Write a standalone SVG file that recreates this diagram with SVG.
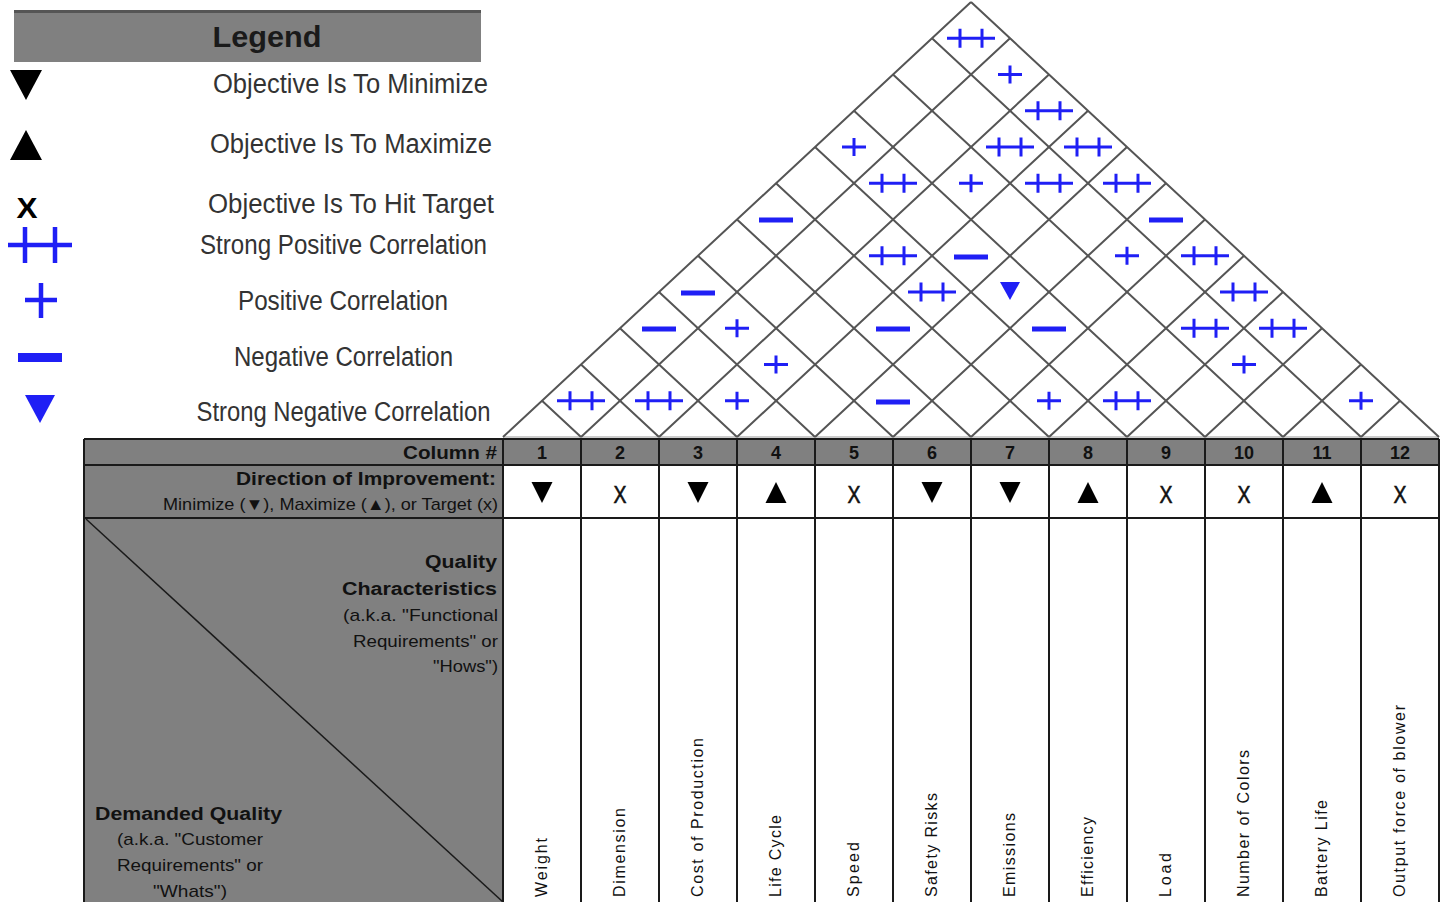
<svg xmlns="http://www.w3.org/2000/svg" width="1450" height="902" viewBox="0 0 1450 902">
<style>
  text { font-family: "Liberation Sans", Arial, sans-serif; }
  .lg { font-size: 27px; fill: #333; text-anchor: middle; }
  .hd { font-size: 18px; font-weight: bold; fill: #111; }
  .hr { font-size: 17px; fill: #111; }
  .num { font-size: 18px; font-weight: bold; fill: #111; text-anchor: middle; }
  .cn { font-size: 16px; fill: #111; }
  .grid { stroke: #555; stroke-width: 2; fill: none; }
  .tl { stroke: #1a1a1a; stroke-width: 2; fill: none; }
  .blue { stroke: #1f1ff5; stroke-width: 3; fill: none; }
  .bluef { fill: #1f1ff5; }
  .blk { fill: #000; }
  .gray { fill: #808080; }
  .x { font-size: 24px; fill: #111; text-anchor: middle; stroke: #111; stroke-width: 0.6; }
</style>
<defs>
  <g id="pp"><path class="blue" d="M-24 0H24M-11 -9.5V9.5M11 -9.5V9.5"/></g>
  <g id="p"><path class="blue" d="M-12 0H12M0 -9V9"/></g>
  <g id="m"><rect class="bluef" x="-17" y="-2.5" width="34" height="5"/></g>
  <g id="sn"><polygon class="bluef" points="-10,-9 10,-9 0,9"/></g>
  <polygon id="dn" class="blk" points="-10.5,-10.5 10.5,-10.5 0,10.5"/>
  <polygon id="up" class="blk" points="0,-10.5 -10.5,10.5 10.5,10.5"/>
</defs>
<rect width="1450" height="902" fill="#fff"/>

<g id="legend">
  <rect class="gray" x="14" y="10" width="467" height="52"/>
  <rect x="14" y="10" width="467" height="3" fill="#555"/>
  <text x="267" y="47" font-size="30" font-weight="bold" fill="#1a1a1a" text-anchor="middle" textLength="109" lengthAdjust="spacingAndGlyphs">Legend</text>
  <polygon class="blk" points="10,70 42,70 26,100"/>
  <text class="lg" x="350.5" y="93" textLength="275" lengthAdjust="spacingAndGlyphs">Objective Is To Minimize</text>
  <polygon class="blk" points="26,130 10,160 42,160"/>
  <text class="lg" x="351" y="153" textLength="282" lengthAdjust="spacingAndGlyphs">Objective Is To Maximize</text>
  <text x="27" y="218" font-size="29" font-weight="bold" fill="#000" text-anchor="middle" textLength="21" lengthAdjust="spacingAndGlyphs">X</text>
  <text class="lg" x="351" y="213" textLength="286" lengthAdjust="spacingAndGlyphs">Objective Is To Hit Target</text>
  <path d="M8 245H72M25 227V263M55 227V263" stroke="#1f1ff5" stroke-width="4.5" fill="none"/>
  <text class="lg" x="343.5" y="254" textLength="287" lengthAdjust="spacingAndGlyphs">Strong Positive Correlation</text>
  <path d="M25 300H57M41 283V318" stroke="#1f1ff5" stroke-width="4.5" fill="none"/>
  <text class="lg" x="343" y="310" textLength="210" lengthAdjust="spacingAndGlyphs">Positive Correlation</text>
  <rect class="bluef" x="18" y="353" width="44" height="9"/>
  <text class="lg" x="343.5" y="366" textLength="219" lengthAdjust="spacingAndGlyphs">Negative Correlation</text>
  <polygon class="bluef" points="25,395 55,395 40,423"/>
  <text class="lg" x="343.5" y="421" textLength="294" lengthAdjust="spacingAndGlyphs">Strong Negative Correlation</text>
</g>

<g id="roof">
  <polygon points="503,437 971,2 1439,437" fill="#fff"/>
  <line x1="503" y1="437" x2="1439" y2="437" stroke="#ccc" stroke-width="2"/>
  <path class="grid" d="M503 437L971 2M581 437L1010 38.25M659 437L1049 74.5M737 437L1088 110.75M815 437L1127 147M893 437L1166 183.25M971 437L1205 219.5M1049 437L1244 255.75M1127 437L1283 292M1205 437L1322 328.25M1283 437L1361 364.5M1361 437L1400 400.75"/>
  <path class="grid" d="M581 437L542 400.75M659 437L581 364.5M737 437L620 328.25M815 437L659 292M893 437L698 255.75M971 437L737 219.5M1049 437L776 183.25M1127 437L815 147M1205 437L854 110.75M1283 437L893 74.5M1361 437L932 38.25M1439 437L971 2"/>
</g>

<g id="correlations">
  <use href="#pp" x="971" y="38.25"/>
  <use href="#p" x="1010" y="74.5"/>
  <use href="#pp" x="1049" y="110.75"/>
  <use href="#p" x="854" y="147"/>
  <use href="#pp" x="1010" y="147"/>
  <use href="#pp" x="1088" y="147"/>
  <use href="#pp" x="893" y="183.25"/>
  <use href="#p" x="971" y="183.25"/>
  <use href="#pp" x="1049" y="183.25"/>
  <use href="#pp" x="1127" y="183.25"/>
  <use href="#m" x="776" y="220"/>
  <use href="#m" x="1166" y="220"/>
  <use href="#pp" x="893" y="255.75"/>
  <use href="#m" x="971" y="257"/>
  <use href="#p" x="1127" y="255.75"/>
  <use href="#pp" x="1205" y="255.75"/>
  <use href="#m" x="698" y="293"/>
  <use href="#pp" x="932" y="292"/>
  <use href="#sn" x="1010" y="291"/>
  <use href="#pp" x="1244" y="292"/>
  <use href="#m" x="659" y="329"/>
  <use href="#p" x="737" y="328.25"/>
  <use href="#m" x="893" y="329"/>
  <use href="#m" x="1049" y="329"/>
  <use href="#pp" x="1205" y="328.25"/>
  <use href="#pp" x="1283" y="328.25"/>
  <use href="#p" x="776" y="364.5"/>
  <use href="#p" x="1244" y="364.5"/>
  <use href="#pp" x="581" y="400.75"/>
  <use href="#pp" x="659" y="400.75"/>
  <use href="#p" x="737" y="400.75"/>
  <use href="#m" x="893" y="402"/>
  <use href="#p" x="1049" y="400.75"/>
  <use href="#pp" x="1127" y="400.75"/>
  <use href="#p" x="1361" y="400.75"/>
</g>

<g id="table">
  <rect class="gray" x="84" y="439" width="419" height="463"/>
  <rect class="gray" x="503" y="439" width="936" height="26"/>
  <rect x="503" y="465" width="936" height="437" fill="#fff"/>
  <line x1="86" y1="519" x2="503" y2="902" stroke="#1a1a1a" stroke-width="1.5"/>
  <path class="tl" d="M84 439H1439M84 465H1439M84 518H1439M84 439V902M503 439V902M581 439V902M659 439V902M737 439V902M815 439V902M893 439V902M971 439V902M1049 439V902M1127 439V902M1205 439V902M1283 439V902M1361 439V902M1439 439V902"/>
  <text class="hd" x="497" y="459" text-anchor="end" textLength="94" lengthAdjust="spacingAndGlyphs">Column #</text>
  <text class="hd" x="496" y="485" text-anchor="end" textLength="260" lengthAdjust="spacingAndGlyphs">Direction of Improvement:</text>
  <text class="hr" x="498" y="510" text-anchor="end" textLength="335" lengthAdjust="spacingAndGlyphs">Minimize (▼), Maximize (▲), or Target (x)</text>
  <text class="hd" x="497" y="568" text-anchor="end" textLength="72" lengthAdjust="spacingAndGlyphs">Quality</text>
  <text class="hd" x="497" y="595" text-anchor="end" textLength="155" lengthAdjust="spacingAndGlyphs">Characteristics</text>
  <text class="hr" x="498" y="621" text-anchor="end" textLength="155" lengthAdjust="spacingAndGlyphs">(a.k.a. "Functional</text>
  <text class="hr" x="498" y="647" text-anchor="end" textLength="145" lengthAdjust="spacingAndGlyphs">Requirements" or</text>
  <text class="hr" x="498" y="672" text-anchor="end" textLength="65" lengthAdjust="spacingAndGlyphs">"Hows")</text>
  <text class="hd" x="188.5" y="820" text-anchor="middle" textLength="187" lengthAdjust="spacingAndGlyphs">Demanded Quality</text>
  <text class="hr" x="190" y="845" text-anchor="middle" textLength="146" lengthAdjust="spacingAndGlyphs">(a.k.a. "Customer</text>
  <text class="hr" x="190" y="871" text-anchor="middle" textLength="146" lengthAdjust="spacingAndGlyphs">Requirements" or</text>
  <text class="hr" x="190" y="897" text-anchor="middle" textLength="74" lengthAdjust="spacingAndGlyphs">"Whats")</text>
</g>

<g id="column-numbers">
  <text class="num" x="542" y="459">1</text>
  <text class="num" x="620" y="459">2</text>
  <text class="num" x="698" y="459">3</text>
  <text class="num" x="776" y="459">4</text>
  <text class="num" x="854" y="459">5</text>
  <text class="num" x="932" y="459">6</text>
  <text class="num" x="1010" y="459">7</text>
  <text class="num" x="1088" y="459">8</text>
  <text class="num" x="1166" y="459">9</text>
  <text class="num" x="1244" y="459">10</text>
  <text class="num" x="1322" y="459">11</text>
  <text class="num" x="1400" y="459">12</text>
</g>

<g id="directions">
  <use href="#dn" x="542" y="492.5"/>
  <text class="x" x="620" y="503" textLength="13" lengthAdjust="spacingAndGlyphs">X</text>
  <use href="#dn" x="698" y="492.5"/>
  <use href="#up" x="776" y="492.5"/>
  <text class="x" x="854" y="503" textLength="13" lengthAdjust="spacingAndGlyphs">X</text>
  <use href="#dn" x="932" y="492.5"/>
  <use href="#dn" x="1010" y="492.5"/>
  <use href="#up" x="1088" y="492.5"/>
  <text class="x" x="1166" y="503" textLength="13" lengthAdjust="spacingAndGlyphs">X</text>
  <text class="x" x="1244" y="503" textLength="13" lengthAdjust="spacingAndGlyphs">X</text>
  <use href="#up" x="1322" y="492.5"/>
  <text class="x" x="1400" y="503" textLength="13" lengthAdjust="spacingAndGlyphs">X</text>
</g>

<g id="column-names">
  <text class="cn" transform="translate(547,897) rotate(-90)" textLength="59">Weight</text>
  <text class="cn" transform="translate(625,897) rotate(-90)" textLength="89">Dimension</text>
  <text class="cn" transform="translate(703,897) rotate(-90)" textLength="159">Cost of Production</text>
  <text class="cn" transform="translate(781,897) rotate(-90)" textLength="82">Life Cycle</text>
  <text class="cn" transform="translate(859,897) rotate(-90)" textLength="55">Speed</text>
  <text class="cn" transform="translate(937,897) rotate(-90)" textLength="104">Safety Risks</text>
  <text class="cn" transform="translate(1015,897) rotate(-90)" textLength="84">Emissions</text>
  <text class="cn" transform="translate(1093,897) rotate(-90)" textLength="80">Efficiency</text>
  <text class="cn" transform="translate(1171,897) rotate(-90)" textLength="44">Load</text>
  <text class="cn" transform="translate(1249,897) rotate(-90)" textLength="147">Number of Colors</text>
  <text class="cn" transform="translate(1327,897) rotate(-90)" textLength="97">Battery Life</text>
  <text class="cn" transform="translate(1405,897) rotate(-90)" textLength="192">Output force of blower</text>
</g>
</svg>
